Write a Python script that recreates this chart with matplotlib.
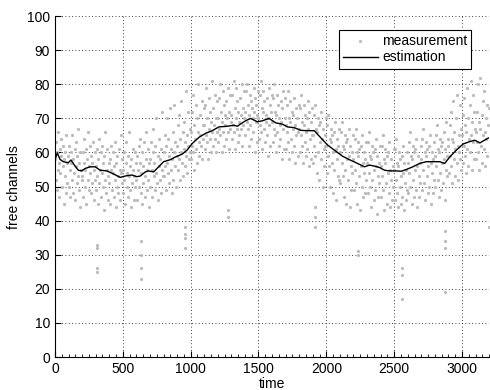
import numpy as np
import matplotlib
matplotlib.use("Agg")
import matplotlib.pyplot as plt
from matplotlib.ticker import MultipleLocator

plt.rcParams['font.family'] = ['Liberation Sans', 'DejaVu Sans']

# ---- estimation line (time, value) ----
est_t = [0, 17, 37, 61, 98, 118, 148, 172, 197, 222, 259, 296, 333, 382, 431, 481,
         518, 567, 604, 629, 666, 690, 727, 764, 801, 851, 888, 937, 974, 1011, 1060,
         1109, 1159, 1208, 1270, 1319, 1344, 1381, 1405, 1442, 1492, 1529, 1578, 1627,
         1677, 1714, 1763, 1812, 1862, 1911, 1948, 2009, 2059, 2120, 2170, 2219, 2281,
         2318, 2355, 2392, 2429, 2466, 2515, 2552, 2589, 2638, 2688, 2737, 2786, 2836,
         2873, 2910, 2959, 3009, 3058, 3095, 3132, 3157, 3187, 3200]
est_v = [57.8, 59.9, 58.0, 57.3, 57.0, 57.8, 56.0, 54.8, 54.6, 55.3, 55.8, 55.8, 54.8,
         54.6, 53.7, 52.7, 53.1, 53.4, 52.9, 53.1, 54.3, 54.6, 54.3, 55.8, 57.3, 57.9,
         58.7, 59.5, 60.7, 62.6, 64.4, 65.6, 66.4, 67.5, 67.7, 68.0, 67.7, 68.7, 69.3,
         70.0, 69.0, 69.3, 70.0, 68.7, 68.3, 67.5, 67.3, 66.5, 66.4, 66.4, 64.8, 62.2,
         60.7, 58.9, 57.9, 57.0, 55.8, 56.3, 56.0, 55.6, 54.8, 54.6, 54.6, 54.5, 55.0,
         55.8, 56.8, 57.3, 57.3, 57.3, 56.8, 58.7, 60.7, 62.5, 63.2, 63.6, 62.8, 63.4,
         64.1, 64.3]

# ---- measurements: one row per 100 time units, 25 samples each (step 4) ----
meas_rows = [
    "58 52 63 49 60 55 66 57 47 61 54 59 64 50 56 62 45 58 53 60 48 65 57 51 59",
    "62 50 55 47 60 57 65 52 48 58 54 61 46 56 63 51 59 53 67 49 57 44 60 55 52",
    "53 60 47 57 64 50 55 61 45 58 52 66 49 56 62 54 48 59 51 57 63 46 55 60 52",
    "56 49 61 53 45 58 64 51 55 47 60 54 62 50 57 43 59 52 66 48 55 61 53 46 57",
    "51 58 45 55 62 49 54 60 47 56 52 63 44 57 50 59 53 48 61 55 46 54 65 51 58",
    "55 48 60 52 45 57 63 50 54 47 59 53 66 49 56 44 58 51 61 55 46 53 60 50 57",
    "52 59 46 55 62 50 57 64 48 54 60 45 56 51 63 53 47 58 66 49 55 61 52 57 44",
    "58 50 63 55 47 60 67 53 57 49 62 54 70 51 59 46 56 64 52 58 48 61 55 72 53",
    "60 53 65 56 49 62 70 57 54 64 51 59 73 55 61 48 58 66 52 60 74 56 63 50 59",
    "62 55 68 58 71 52 64 60 75 57 66 53 61 69 56 63 78 59 65 54 62 72 58 67 60",
    "66 58 72 62 77 60 68 55 64 74 61 70 57 66 80 63 59 71 65 62 75 58 68 64 73",
    "68 61 74 65 79 63 70 58 67 76 64 72 60 69 81 66 62 73 68 64 77 60 70 66 75",
    "70 63 76 67 80 65 72 60 69 78 66 74 62 71 68 64 75 70 66 79 61 72 67 77 69",
    "71 64 77 68 81 66 73 61 70 79 67 75 63 72 69 65 76 71 67 80 62 73 68 78 70",
    "72 65 78 69 80 67 74 62 71 77 68 75 64 73 70 66 79 72 60 76 69 74 63 71 78",
    "70 64 77 68 81 66 73 61 72 78 67 75 63 71 69 65 76 70 59 79 68 74 62 72 77",
    "69 63 76 67 80 65 72 60 71 77 66 74 62 70 68 64 75 69 58 73 67 78 61 70 76",
    "68 61 74 66 78 63 70 58 69 75 64 72 60 67 71 62 76 68 57 73 65 70 59 66 74",
    "67 60 73 65 77 62 69 57 68 74 63 71 59 66 70 61 75 67 56 72 64 69 58 65 73",
    "65 57 71 62 74 59 67 54 66 70 60 68 52 63 69 58 72 64 50 67 61 56 65 62 70",
    "62 54 68 59 71 56 64 50 63 67 57 65 48 60 66 55 69 61 46 64 58 53 62 52 67",
    "60 51 66 57 69 53 62 47 61 65 55 63 45 58 64 52 67 59 44 62 56 49 60 54 65",
    "58 49 64 55 67 51 60 45 59 63 53 61 43 56 62 50 65 57 47 60 54 48 58 52 63",
    "57 48 63 54 66 50 59 44 58 62 52 60 46 55 61 49 64 56 42 59 53 47 57 51 62",
    "56 47 62 53 65 49 58 43 57 61 51 59 45 54 60 48 63 55 44 58 52 46 56 50 61",
    "55 46 61 52 64 48 57 44 56 60 50 58 45 53 59 47 62 54 43 57 51 46 55 49 60",
    "57 48 63 54 66 50 59 45 58 62 52 60 47 55 61 49 64 56 44 59 53 47 57 51 62",
    "58 49 64 55 67 51 60 46 59 63 53 61 48 56 62 50 65 57 45 60 54 48 58 52 63",
    "59 50 65 56 68 52 61 47 60 64 54 62 49 57 63 51 66 58 46 61 55 69 59 53 64",
    "62 54 68 59 72 56 64 51 63 75 58 66 53 61 70 57 77 62 52 65 60 74 58 67 55",
    "65 57 71 62 76 59 68 54 66 79 61 70 56 64 74 60 81 65 55 69 63 77 58 72 67",
    "66 58 72 63 80 60 69 55 67 82 62 71 57 65 75 61 78 66 56 70 64 74 59 68 73",
]
row_span = 100
samples_per_row = 25

# isolated low measurements (time, value)
outlier_t = [313, 313, 313, 313, 636, 636, 636, 636, 957, 957, 957, 957, 1277, 1277,
             1913, 1913, 1913, 2236, 2236, 2557, 2557, 2557, 2877, 2877, 2877, 2877, 3200]
outlier_v = [33, 32, 26, 25, 34, 30, 26, 23, 38, 36, 35, 32, 43, 41,
             44, 41, 38, 31, 30, 26, 24, 17, 37, 34, 32, 19, 38]

meas_t, meas_v = [], []
for i, row in enumerate(meas_rows):
    vals = [float(s) for s in row.split()]
    step = row_span / samples_per_row
    for j, v in enumerate(vals):
        meas_t.append(i * row_span + j * step)
        meas_v.append(v)
meas_t += outlier_t
meas_v += outlier_v

fig = plt.figure(figsize=(4.9, 3.9), dpi=100)
ax = fig.add_axes([0.1122, 0.0846, 0.886, 0.874])

ax.plot(meas_t, meas_v, linestyle='none', marker='.', markersize=2.6,
        color='#bbbbbb', label='measurement')
ax.plot(est_t, est_v, color='black', lw=1.0, label='estimation')

ax.set_xlim(0, 3200)
ax.set_ylim(0, 100)
ax.xaxis.set_major_locator(MultipleLocator(500))
ax.yaxis.set_major_locator(MultipleLocator(10))
ax.xaxis.set_minor_locator(MultipleLocator(50))
ax.tick_params(which='both', direction='in', labelsize=10, top=False, right=False)
ax.tick_params(which='major', length=4)
ax.tick_params(which='minor', length=2)
ax.tick_params(axis='y', which='minor', left=False)
ax.grid(True, which='major', linestyle=(0, (1, 3)), color='black', lw=0.6)
for s in ['top', 'right']:
    ax.spines[s].set_visible(False)

ax.set_xlabel('time', fontsize=10, labelpad=1)
ax.set_ylabel('free channels', fontsize=10, labelpad=4)

leg = ax.legend(loc='upper right', bbox_to_anchor=(0.975, 0.979), fontsize=10,
                frameon=True, fancybox=False, edgecolor='black', framealpha=1,
                handlelength=2.5, handletextpad=0.3, borderpad=0.3,
                labelspacing=0.15, markerscale=1.0)
leg.get_frame().set_linewidth(0.8)

fig.savefig('out.png', dpi=100)
